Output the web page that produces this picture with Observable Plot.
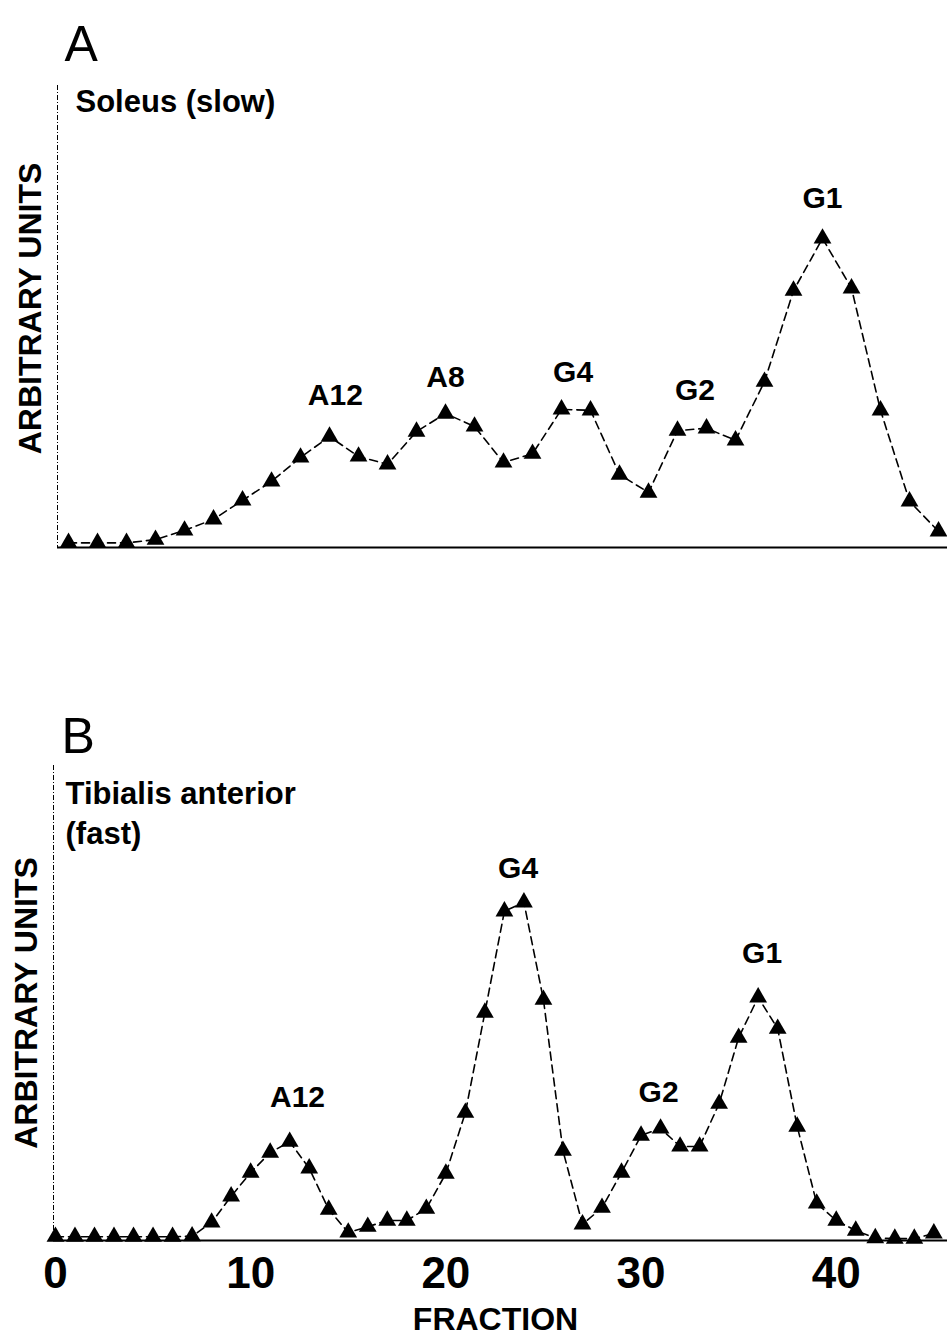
<!DOCTYPE html>
<html>
<head>
<meta charset="utf-8">
<script src="https://cdn.jsdelivr.net/npm/d3@7"></script>
<script src="https://cdn.jsdelivr.net/npm/@observablehq/plot@0.6"></script>
<style>
  html, body { margin: 0; padding: 0; background: #fff; }
  #chart { width: 947px; }
  #chart svg { display: block; }
</style>
</head>
<body>
<div id="chart"></div>
<script>
// Panel A: soleus (slow muscle) gradient profile
const fractionsA = [1, 2, 3, 4, 5, 6, 7, 8, 9, 10, 11, 12, 13, 14, 15, 16,
                    17, 18, 19, 20, 21, 22, 23, 24, 25, 26, 27, 28, 29, 30, 31];
const valuesA = [1.0, 1.0, 1.0, 1.7, 3.7, 6.1, 10.2, 14.3, 19.5, 24.0, 19.7,
                 18.0, 25.1, 29.0, 26.2, 18.4, 20.3, 29.9, 29.7, 15.8, 11.9,
                 25.3, 25.8, 23.2, 35.9, 55.6, 66.9, 56.1, 29.7, 10.0, 3.5];
const peakNamesA = ["A12", "A8", "G4", "G2", "G1"];
const peakFractionsA = [10.2, 14.0, 18.4, 22.6, 27.0];
const peakValuesA = [32.9, 36.8, 37.9, 34.0, 75.5];

// Panel B: tibialis anterior (fast muscle) gradient profile
const fractionsB = [0, 1, 2, 3, 4, 5, 6, 7, 8, 9, 10, 11, 12, 13, 14, 15, 16,
                    17, 18, 19, 20, 21, 22, 23, 24, 25, 26, 27, 28, 29, 30, 31,
                    32, 33, 34, 35, 36, 37, 38, 39, 40, 41, 42, 43, 44, 45];
const valuesB = [0.8, 0.8, 0.8, 0.8, 0.8, 0.8, 0.8, 0.9, 3.8, 9.3, 14.3, 18.5,
                 20.8, 15.2, 6.5, 1.7, 2.9, 4.2, 4.2, 6.7, 14.1, 26.9, 48.0,
                 69.3, 71.2, 50.7, 18.9, 3.4, 6.9, 14.3, 22.1, 23.6, 19.8, 19.8,
                 28.8, 42.7, 51.2, 44.6, 24.0, 7.8, 4.2, 2.1, 0.5, 0.4, 0.4, 1.5];
const peakNamesB = ["A12", "G4", "G2", "G1"];
const peakFractionsB = [12.4, 23.7, 30.9, 36.2];
const peakValuesB = [30.1, 78.3, 31.2, 60.4];

const fractionTicks = [0, 10, 20, 30, 40];

const sans = "'Liberation Sans', Arial, Helvetica, sans-serif";
const narrow = "'Liberation Sans Narrow', 'Liberation Sans', Arial, sans-serif";

const pointsA = fractionsA.map((f, i) => ({fraction: f, value: valuesA[i]}));
const labelsA = peakNamesA.map((n, i) => ({name: n, fraction: peakFractionsA[i], value: peakValuesA[i]}));
const pointsB = fractionsB.map((f, i) => ({fraction: f, value: valuesB[i]}));
const labelsB = peakNamesB.map((n, i) => ({name: n, fraction: peakFractionsB[i], value: peakValuesB[i]}));

const xDomainA = [0.62, 31.31];
const xDomainB = [-0.1, 45.7];

function profileMarks(points, labels, xMin, labelShift) {
  return [
    Plot.ruleX([xMin], {stroke: "black", strokeWidth: 1, strokeDasharray: "5,2,1,2"}),
    Plot.ruleY([0], {stroke: "black", strokeWidth: 2}),
    Plot.line(points, {x: "fraction", y: "value", stroke: "black", strokeWidth: 1.6, strokeDasharray: "8,5"}),
    Plot.dot(points, {x: "fraction", y: "value", symbol: "triangle", r: 6.6, fill: "black"}),
    Plot.text(labels, {x: "fraction", y: "value", text: "name", fontSize: 30, fontWeight: "bold"}),
    Plot.text(["ARBITRARY UNITS"], {text: d => d, frameAnchor: "left", textAnchor: "middle", rotate: -90,
                                    dx: -27, dy: labelShift, fontSize: 32, fontWeight: "bold"})
  ];
}

const chartA = Plot.plot({
  width: 947,
  height: 560,
  marginTop: 85,
  marginBottom: 13,
  marginLeft: 57,
  marginRight: 0,
  x: {domain: xDomainA, axis: null},
  y: {domain: [0, 100], axis: null},
  style: {fontFamily: sans, background: "white", overflow: "visible"},
  marks: [
    ...profileMarks(pointsA, labelsA, xDomainA[0], -8),
    Plot.text(["A"], {text: d => d, frameAnchor: "top-left", textAnchor: "start", lineAnchor: "bottom",
                      dx: 7, dy: -25, fontSize: 50}),
    Plot.text(["Soleus (slow)"], {text: d => d, frameAnchor: "top-left", textAnchor: "start", lineAnchor: "bottom",
                                  dx: 18, dy: 26, fontSize: 31, fontWeight: "bold"})
  ]
});

const chartB = Plot.plot({
  width: 947,
  height: 776,
  marginTop: 205,
  marginBottom: 96,
  marginLeft: 53,
  marginRight: 0,
  x: {domain: xDomainB},
  y: {domain: [0, 100], axis: null},
  style: {fontFamily: sans, background: "white", overflow: "visible"},
  marks: [
    ...profileMarks(pointsB, labelsB, xDomainB[0], 0),
    Plot.axisX({ticks: fractionTicks, tickSize: 0, tickPadding: 16, tickFormat: d => String(d),
                fontSize: 44, fontWeight: "bold", fontFamily: narrow, label: null}),
    Plot.text(["FRACTION"], {text: d => d, frameAnchor: "bottom", lineAnchor: "bottom",
                             dx: -5, dy: 89, fontSize: 32, fontWeight: "bold"}),
    Plot.text(["B"], {text: d => d, frameAnchor: "top-left", textAnchor: "start", lineAnchor: "bottom",
                      dx: 8, dy: -13, fontSize: 50}),
    Plot.text(["Tibialis anterior\n(fast)"], {text: d => d, frameAnchor: "top-left", textAnchor: "start",
                                              lineAnchor: "top", dx: 12, dy: 10, lineHeight: 1.3,
                                              fontSize: 31, fontWeight: "bold"})
  ]
});

document.getElementById("chart").append(chartA, chartB);
</script>
</body>
</html>
